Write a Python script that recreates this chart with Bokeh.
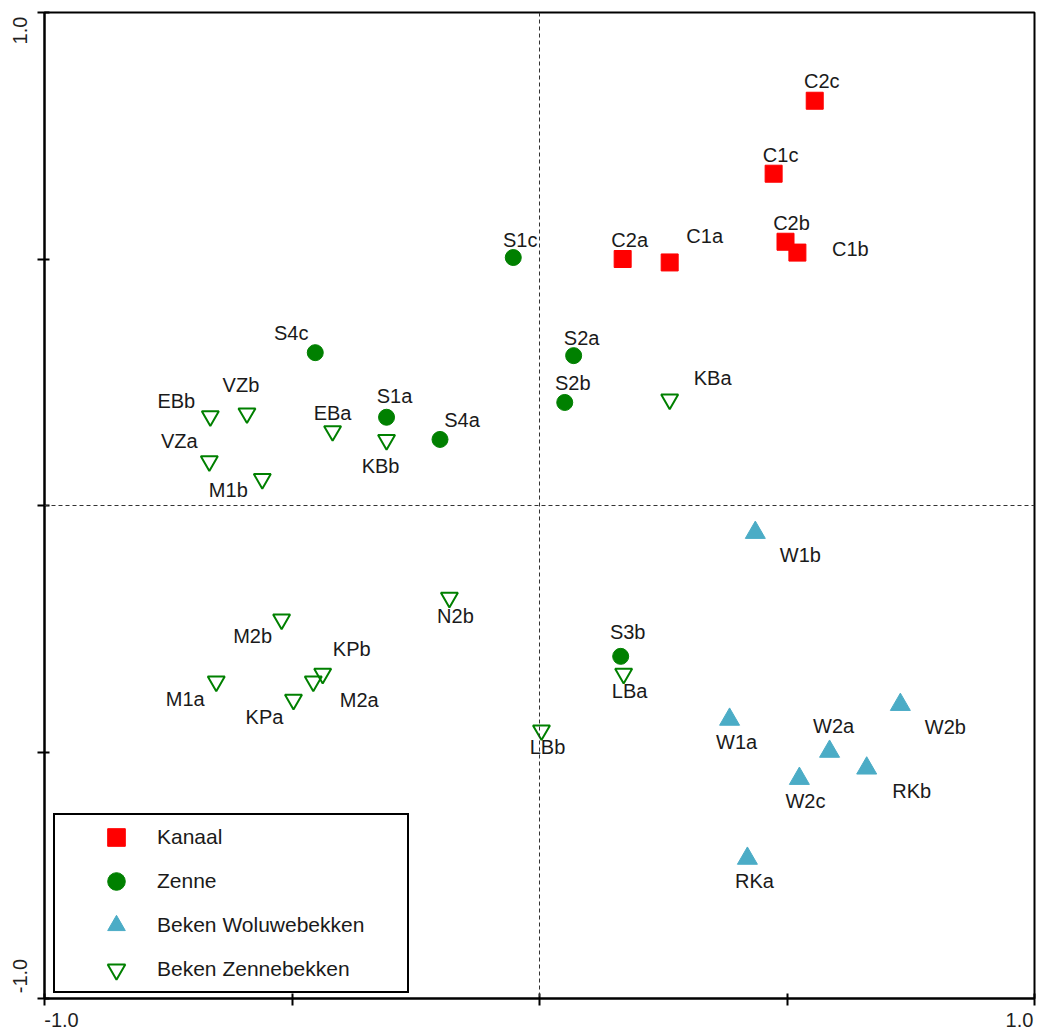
import math
from bokeh.plotting import figure
from bokeh.models import (ColumnDataSource, Span, Legend, LegendItem,
                          FixedTicker, LinearAxis)
from bokeh.embed import file_html
from bokeh.resources import INLINE
from bokeh.core.properties import value

FONT = "Liberation Sans"

# --- ordination scores per group -------------------------------------------
kanaal_names = ["C2c", "C1c", "C2b", "C1b", "C2a", "C1a"]
kanaal_x = [0.556, 0.473, 0.497, 0.521, 0.168, 0.263]
kanaal_y = [0.821, 0.673, 0.535, 0.513, 0.500, 0.493]

zenne_names = ["S1c", "S4c", "S2a", "S2b", "S1a", "S4a", "S3b"]
zenne_x = [-0.053, -0.453, 0.069, 0.051, -0.309, -0.201, 0.164]
zenne_y = [0.503, 0.310, 0.304, 0.209, 0.179, 0.134, -0.306]

woluwe_names = ["W1b", "W1a", "W2b", "W2a", "RKb", "W2c", "RKa"]
woluwe_x = [0.436, 0.384, 0.729, 0.586, 0.661, 0.525, 0.420]
woluwe_y = [-0.055, -0.434, -0.404, -0.499, -0.533, -0.554, -0.716]

zennebek_names = ["EBb", "VZb", "VZa", "M1b", "EBa", "KBb", "KBa", "N2b",
                  "M2b", "KPb", "M2a", "M1a", "KPa", "LBa", "LBb"]
zennebek_x = [-0.665, -0.591, -0.667, -0.560, -0.418, -0.309, 0.263, -0.182,
              -0.521, -0.438, -0.457, -0.653, -0.497, 0.170, 0.004]
zennebek_y = [0.181, 0.187, 0.090, 0.054, 0.151, 0.133, 0.215, -0.187,
              -0.231, -0.341, -0.357, -0.357, -0.394, -0.341, -0.456]

group_labels = ["Kanaal", "Zenne", "Beken Woluwebekken", "Beken Zennebekken"]

# axis ticks; only the two ends carry a value
axis_ticks = [-1, -0.5, 0, 0.5, 1]
end_labels = ["-1.0", "1.0"]

# --- label placement (screen px relative to each marker) -------------------
kanaal_dx = [7, 7, 6, 53, 7, 35]
kanaal_dy = [-20, -19, -19, -4, -19, -26]
zenne_dx = [7, -24, 8, 8, 8, 22, 7]
zenne_dy = [-18, -20, -18, -19, -21, -19, -24]
woluwe_dx = [45, 7, 45, 4, 45, 6, 7]
woluwe_dy = [22, 23, 22, -26, 23, 22, 23]
zennebek_dx = [-34, -6, -30, -34, 0, -6, 43, 6, -29, 29, 46, -31, -29, 6, 6]
zennebek_dy = [-15, -28, -20, 11, -18, 26, -22, 18, 17, -25, 18, 17, 17, 17, 17]

# the end values sit flush with the frame corners rather than centred on ticks
x_end_label_pos = [-0.9657, 0.9697]
y_end_label_pos = [-0.9544, 0.9635]

p = figure(width=1039, height=1034, x_range=(-1, 1), y_range=(-1, 1),
           output_backend="svg", toolbar_location=None,
           min_border_left=44, min_border_right=5,
           min_border_top=12, min_border_bottom=36)
p.grid.visible = False
p.background_fill_color = "white"
p.border_fill_color = "white"
p.outline_line_color = "black"
p.outline_line_width = 2

for ax in (p.xaxis[0], p.yaxis[0]):
    ax.ticker = FixedTicker(ticks=axis_ticks)
    ax.major_label_overrides = {t: "" for t in axis_ticks}
    ax.major_label_text_font_size = "0px"
    ax.major_label_standoff = 0
    ax.minor_tick_line_color = None
    ax.axis_line_color = "black"
    ax.axis_line_width = 2
    ax.major_tick_line_color = "black"
    ax.major_tick_line_width = 2
    ax.major_tick_out = 7
    ax.major_tick_in = 5

label_style = dict(axis_line_color=None, major_tick_line_color=None,
                   minor_tick_line_color=None, major_tick_out=0,
                   major_tick_in=0, major_label_text_font=FONT,
                   major_label_text_font_size="20px",
                   major_label_text_color="#1f1f1f")
x_lab_axis = LinearAxis(ticker=FixedTicker(ticks=x_end_label_pos),
                        major_label_overrides=dict(zip(x_end_label_pos, end_labels)),
                        major_label_standoff=7, **label_style)
y_lab_axis = LinearAxis(ticker=FixedTicker(ticks=y_end_label_pos),
                        major_label_overrides=dict(zip(y_end_label_pos, end_labels)),
                        major_label_orientation="vertical",
                        major_label_standoff=10, **label_style)
p.add_layout(x_lab_axis, "below")
p.add_layout(y_lab_axis, "left")

# dashed zero lines
p.add_layout(Span(location=0, dimension="height", line_color="#333333",
                  line_width=1, line_dash="4 3"))
p.add_layout(Span(location=0, dimension="width", line_color="#333333",
                  line_width=1, line_dash="4 3"))

groups = [
    (kanaal_names, kanaal_x, kanaal_y, kanaal_dx, kanaal_dy,
     dict(marker="square", size=17, fill_color="#ff0000", line_color="#ff0000")),
    (zenne_names, zenne_x, zenne_y, zenne_dx, zenne_dy,
     dict(marker="circle", size=16, fill_color="#008000", line_color="#008000")),
    (woluwe_names, woluwe_x, woluwe_y, woluwe_dx, woluwe_dy,
     dict(marker="triangle", size=20, fill_color="#4bacc6", line_color="#4bacc6")),
    (zennebek_names, zennebek_x, zennebek_y, zennebek_dx, zennebek_dy,
     dict(marker="inverted_triangle", size=17, fill_color=None,
          line_color="#008000", line_width=2)),
]

items = []
for (names, xs, ys, dxs, dys, style), lab in zip(groups, group_labels):
    src = ColumnDataSource(dict(x=xs, y=ys, name=names, dx=dxs, dy=dys))
    r = p.scatter("x", "y", source=src, **style)
    p.text("x", "y", text="name", source=src, x_offset="dx", y_offset="dy",
           text_align="center", text_baseline="middle",
           text_font=value(FONT), text_font_size="20px", text_color="#1a1a1a")
    items.append(LegendItem(label=lab, renderers=[r]))

legend = Legend(items=items, location=(9, 5), orientation="vertical",
                glyph_width=82, glyph_height=44, spacing=0,
                padding=dict(left=20, right=0, top=0, bottom=0),
                label_standoff=0, label_width=250,
                label_text_font=FONT, label_text_font_size="21px",
                label_text_color="#1a1a1a",
                border_line_color="black", border_line_width=2,
                border_line_alpha=1,
                background_fill_color="white", background_fill_alpha=1)
p.add_layout(legend)

open("out.html", "w").write(file_html(p, INLINE))
